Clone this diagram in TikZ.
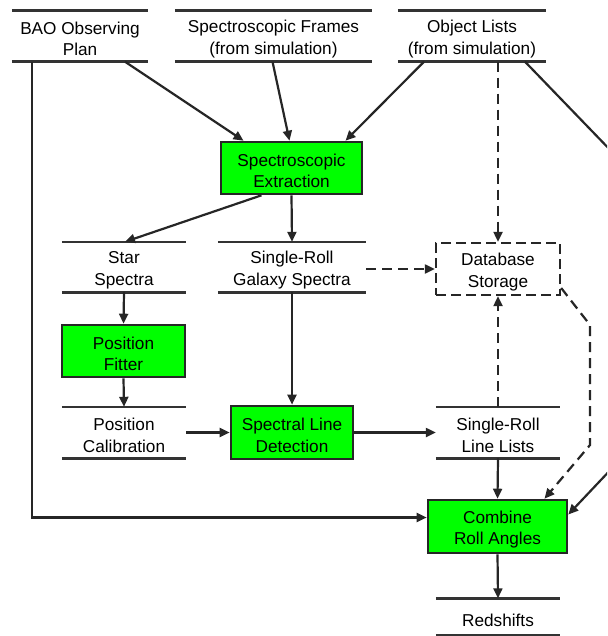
\documentclass[tikz,border=0pt]{standalone}
\usepackage{fontspec}
\setmainfont{Liberation Sans}
\usetikzlibrary{arrows.meta,calc}
\newcommand{\dnstrut}{\rule{0pt}{18.5pt}}
\begin{document}
\begin{tikzpicture}[x=1pt,y=-1pt,
  font=\fontsize{17.2}{21.5}\selectfont,
  store/.style={inner sep=0pt,align=center,minimum height=51pt,
    append after command={
      (\tikzlastnode.north west) edge[-,line width=2.6pt,draw=black!80] (\tikzlastnode.north east)
      (\tikzlastnode.south west) edge[-,line width=2.6pt,draw=black!80] (\tikzlastnode.south east)}},
  proc/.style={draw=black!85,line width=2.6pt,fill=green,inner sep=0pt,align=center,minimum height=52pt},
  dbox/.style={draw=black!85,line width=2.4pt,dash pattern=on 10pt off 5pt,inner sep=0pt,align=center,minimum height=52pt},
  conn/.style={draw=black!85,line width=2.2pt,-{Triangle[length=10pt,width=9pt]}},
  dconn/.style={conn,dash pattern=on 10pt off 6pt}]
\clip (0,0) rectangle (607,636);
\node[store,minimum width=136pt] (bao) at (80,36) {\dnstrut BAO Observing\\Plan};
\node[store,minimum width=197pt] (frames) at (273.5,36) {\dnstrut Spectroscopic Frames\\(from simulation)};
\node[store,minimum width=148pt] (objs) at (472,36) {\dnstrut Object Lists\\(from simulation)};
\node[proc,minimum width=141pt] (extr) at (291.5,168) {\dnstrut Spectroscopic\\Extraction};
\node[store,minimum width=124pt,minimum height=50pt] (star) at (124,267) {\dnstrut Star\\Spectra};
\node[store,minimum width=148pt,minimum height=50pt] (gal) at (292,267) {\dnstrut Single-Roll\\Galaxy Spectra};
\node[dbox,minimum width=124pt] (db) at (498,269) {\dnstrut Database\\Storage};
\node[proc,minimum width=123pt] (fitter) at (123.5,351) {\dnstrut Position\\Fitter};
\node[store,minimum width=124pt] (calib) at (124,432.5) {\dnstrut Position\\Calibration};
\node[proc,minimum width=122pt,minimum height=53pt] (sld) at (292,432.5) {\dnstrut Spectral Line\\Detection};
\node[store,minimum width=124pt] (lists) at (498,432.5) {\dnstrut Single-Roll\\Line Lists};
\node[proc,minimum width=139pt,minimum height=53pt] (comb) at (497.5,526.5) {\dnstrut Combine\\Roll Angles};
\node[store,minimum width=124pt,minimum height=37pt] (red) at (498,617) {\dnstrut Redshifts};
\coordinate (o1) at (616,156);
\coordinate (o2) at (616,464);
\coordinate (d1) at (590,325);
\coordinate (d2) at (590,445);
% connectors
\draw[conn] ([xshift=45pt]bao.south) -- ([xshift=-48pt]extr.north);
\draw[conn] ([xshift=-1pt]frames.south) -- ([xshift=-2pt]extr.north);
\draw[conn] ([xshift=-48pt]objs.south) -- ([xshift=54pt]extr.north);
\draw[dconn] (db.north |- objs.south) -- (db.north);
\draw[conn] ([xshift=53pt]objs.south) -- (o1) -- (o2) -- ([yshift=12pt]comb.east);
\draw[conn] (extr.south) -- (gal.north);
\draw[conn] ([xshift=-30pt]extr.south) -- ([xshift=1pt]star.north);
\draw[dconn] (gal.east |- db.west) -- (db.west);
\draw[dconn] ([yshift=-19pt]db.east) -- (d1) -- (d2) -- ([xshift=47pt]comb.north);
\draw[dconn] (lists.north) -- (db.south);
\draw[conn] (star.south) -- (fitter.north);
\draw[conn] (fitter.south) -- (calib.north);
\draw[conn] (calib.east) -- (sld.west);
\draw[conn] (gal.south) -- (sld.north);
\draw[conn] (sld.east) -- (lists.west);
\draw[conn] (lists.south) -- (comb.north);
\draw[conn] ([xshift=-48pt]bao.south) |- ([yshift=9pt]comb.west);
\draw[conn] (comb.south) -- (red.north);
\end{tikzpicture}
\end{document}
